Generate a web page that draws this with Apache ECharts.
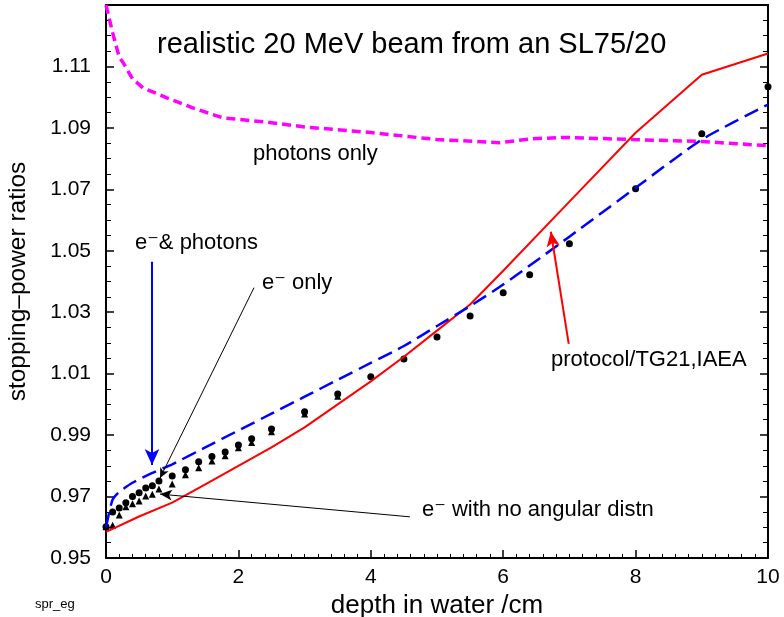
<!DOCTYPE html>
<html>
<head>
<meta charset="utf-8">
<script src="https://cdn.jsdelivr.net/npm/echarts@6/dist/echarts.min.js"></script>
<style>html,body{margin:0;padding:0;background:#fff}#c{width:784px;height:617px}</style>
</head>
<body>
<div id="c"></div>
<script>
// ---- data ----
const depthElectronOnly = [0,0.1,0.2,0.3,0.4,0.5,0.6,0.7,0.8,1.0,1.2,1.4,1.6,1.8,2.0,2.2,2.5,3.0,3.5,4.0,4.5,5.0,5.5,6.0,6.4,7.0,8.0,9.0,10.0];
const sprElectronOnly = [0.9602,0.9650,0.9663,0.9680,0.9700,0.9712,0.9728,0.9735,0.9751,0.9767,0.9787,0.9813,0.9830,0.9845,0.9868,0.9888,0.9920,0.9976,1.0034,1.0090,1.0148,1.0219,1.0288,1.0363,1.0422,1.0523,1.0702,1.0881,1.1034];

const depthNoAngular = [0,0.1,0.2,0.3,0.4,0.5,0.6,0.7,0.8,1.0,1.2,1.4,1.6,1.8,2.0,2.2,2.5,3.0,3.5];
const sprNoAngular = [0.9605,0.9610,0.9643,0.9670,0.9680,0.9689,0.9705,0.9711,0.9728,0.9744,0.9774,0.9797,0.9819,0.9836,0.9862,0.9879,0.9914,0.9972,1.0030];

const depthProtocol = [0,0.1,0.5,1,1.5,2,2.5,3,3.5,4,4.5,5,5.5,6,7,8,9,10];
const sprProtocol = [0.9585,0.9595,0.9635,0.9680,0.9740,0.9800,0.9860,0.9925,1.0000,1.0075,1.0155,1.0240,1.0325,1.0435,1.0660,1.0884,1.1073,1.1142];

const depthElPhot = [0,0.05,0.1,0.2,0.4,0.7,1,1.5,2,2.5,3,3.5,4,4.5,5,5.5,6,7,8,9,10];
const sprElPhot = [0.9600,0.9650,0.9690,0.9715,0.9745,0.9777,0.9805,0.9860,0.9915,0.9970,1.0025,1.0080,1.0135,1.0190,1.0255,1.0320,1.0390,1.0546,1.0705,1.0862,1.0976];

const depthPhotons = [0,0.1,0.2,0.26,0.4,0.56,0.92,1.3,1.76,2.5,3,4,5,5.95,6.45,6.96,7.96,8.97,10];
const sprPhotons = [1.1300,1.1210,1.1130,1.1112,1.1060,1.1030,1.0998,1.0966,1.0933,1.0917,1.0903,1.0885,1.0862,1.0852,1.0865,1.0869,1.0862,1.0856,1.0842];

const xTicks = [0,2,4,6,8,10];
const yTicks = ['0.95','0.97','0.99','1.01','1.03','1.05','1.07','1.09','1.11'];

// annotation arrows in data coordinates [from, to]
const arrowElPhot = [[0.695,1.0464],[0.695,0.9803]];
const lineElOnly = [[2.236,1.0380],[0.816,0.9760]];
const arrowProtocol = [[6.99,1.0197],[6.72,1.0562]];
const arrowNoAngular = [[4.59,0.9634],[0.816,0.9708]];

const zip = (xs, ys) => xs.map((x, i) => [x, ys[i]]);
const FONT = '"Liberation Sans", Arial, "DejaVu Sans", sans-serif';

const chart = echarts.init(document.getElementById('c'), null, {renderer: 'canvas'});

const axisCommon = {
  type: 'value',
  axisLine: {show: true, onZero: false, lineStyle: {color: '#000', width: 2}},
  splitLine: {show: false},
};

function arrowML(seg, color, width, size) {
  return {
    silent: true,
    symbol: ['none', 'arrow'],
    symbolSize: size,
    label: {show: false},
    lineStyle: {color: color, width: width, type: 'solid'},
    data: [[{coord: seg[0]}, {coord: seg[1]}]]
  };
}

const option = {
  animation: false,
  backgroundColor: '#fff',
  grid: {left: 106, right: 16, top: 5, bottom: 59, containLabel: false, outerBoundsMode: 'none'},
  xAxis: [
    Object.assign({}, axisCommon, {
      position: 'bottom', min: 0, max: 10, interval: 2,
      axisTick: {show: true, inside: true, length: 8, lineStyle: {color: '#000', width: 1.5}},
      minorTick: {show: true, splitNumber: 10, length: 4, lineStyle: {color: '#000', width: 1}},
      axisLabel: {fontSize: 21, color: '#000', fontFamily: FONT, margin: 9,
        formatter: v => xTicks.indexOf(v) >= 0 ? String(v) : ''},
      name: 'depth in water /cm', nameLocation: 'middle', nameGap: 30,
      nameTextStyle: {fontSize: 26, color: '#000', fontFamily: FONT}
    }),
    Object.assign({}, axisCommon, {
      position: 'top', min: 0, max: 10, interval: 2,
      axisTick: {show: false}, axisLabel: {show: false}
    })
  ],
  yAxis: [
    Object.assign({}, axisCommon, {
      position: 'left', min: 0.95, max: 1.13, interval: 0.02,
      axisTick: {show: true, inside: true, length: 8, lineStyle: {color: '#000', width: 1.5}},
      minorTick: {show: true, splitNumber: 4, length: 5, lineStyle: {color: '#000', width: 1}},
      axisLabel: {fontSize: 21, color: '#000', fontFamily: FONT, margin: 15,
        formatter: v => { const s = v.toFixed(2); return yTicks.indexOf(s) >= 0 ? s : ''; }},
      name: 'stopping\u2013power ratios', nameLocation: 'middle', nameGap: 75, nameRotate: 90,
      nameTextStyle: {fontSize: 24.5, color: '#000', fontFamily: FONT}
    }),
    Object.assign({}, axisCommon, {
      position: 'right', min: 0.95, max: 1.13, interval: 0.02,
      axisTick: {show: true, inside: true, length: 8, lineStyle: {color: '#000', width: 1.5}},
      minorTick: {show: true, splitNumber: 4, length: 5, lineStyle: {color: '#000', width: 1}},
      axisLabel: {show: false}
    })
  ],
  series: [
    {
      name: 'photons only', type: 'line', data: zip(depthPhotons, sprPhotons),
      showSymbol: false, smooth: false, clip: true,
      lineStyle: {color: '#ff00ff', width: 3.5, type: [9, 5]}
    },
    {
      name: 'protocol/TG21,IAEA', type: 'line', data: zip(depthProtocol, sprProtocol),
      showSymbol: false, smooth: false,
      lineStyle: {color: '#ff0000', width: 2}
    },
    {
      name: 'e- & photons', type: 'line', data: zip(depthElPhot, sprElPhot),
      showSymbol: false, smooth: 0.2,
      lineStyle: {color: '#0000ff', width: 2.5, type: [15, 7]}
    },
    {
      name: 'e- with no angular distn', type: 'scatter', data: zip(depthNoAngular, sprNoAngular),
      symbol: 'triangle', symbolSize: 7, symbolOffset: [0, 1],
      itemStyle: {color: '#000', opacity: 1}
    },
    {
      name: 'e- only', type: 'scatter', data: zip(depthElectronOnly, sprElectronOnly),
      symbol: 'circle', symbolSize: 7,
      itemStyle: {color: '#000', opacity: 1}
    },
    {
      name: 'arrowBlue', type: 'line', data: [], markLine: arrowML(arrowElPhot, '#0000ff', 2, [11, 16])
    },
    {
      name: 'lineElOnly', type: 'line', data: [], markLine: arrowML(lineElOnly, '#000', 1, [7, 10])
    },
    {
      name: 'arrowRed', type: 'line', data: [], markLine: arrowML(arrowProtocol, '#ff0000', 2, [10, 15])
    },
    {
      name: 'arrowNoAng', type: 'line', data: [], markLine: arrowML(arrowNoAngular, '#000', 1, [8, 12])
    }
  ],
  graphic: [
    {type: 'text', x: 157, y: 45, style: {text: 'realistic 20 MeV beam from an SL75/20', font: '29px ' + FONT, fill: '#000', verticalAlign: 'middle'}},
    {type: 'text', x: 253, y: 154, style: {text: 'photons only', font: '22px ' + FONT, fill: '#000', verticalAlign: 'middle'}},
    {type: 'text', x: 135, y: 243, style: {text: 'e\u207B& photons', font: '22px ' + FONT, fill: '#000', verticalAlign: 'middle'}},
    {type: 'text', x: 262, y: 283, style: {text: 'e\u207B only', font: '22px ' + FONT, fill: '#000', verticalAlign: 'middle'}},
    {type: 'text', x: 551, y: 360, style: {text: 'protocol/TG21,IAEA', font: '22px ' + FONT, fill: '#000', verticalAlign: 'middle'}},
    {type: 'text', x: 422, y: 510, style: {text: 'e\u207B with no angular distn', font: '22px ' + FONT, fill: '#000', verticalAlign: 'middle'}},
    {type: 'text', x: 35, y: 604, style: {text: 'spr_eg', font: '13px ' + FONT, fill: '#000', verticalAlign: 'middle'}}
  ]
};
chart.setOption(option);
</script>
</body>
</html>
